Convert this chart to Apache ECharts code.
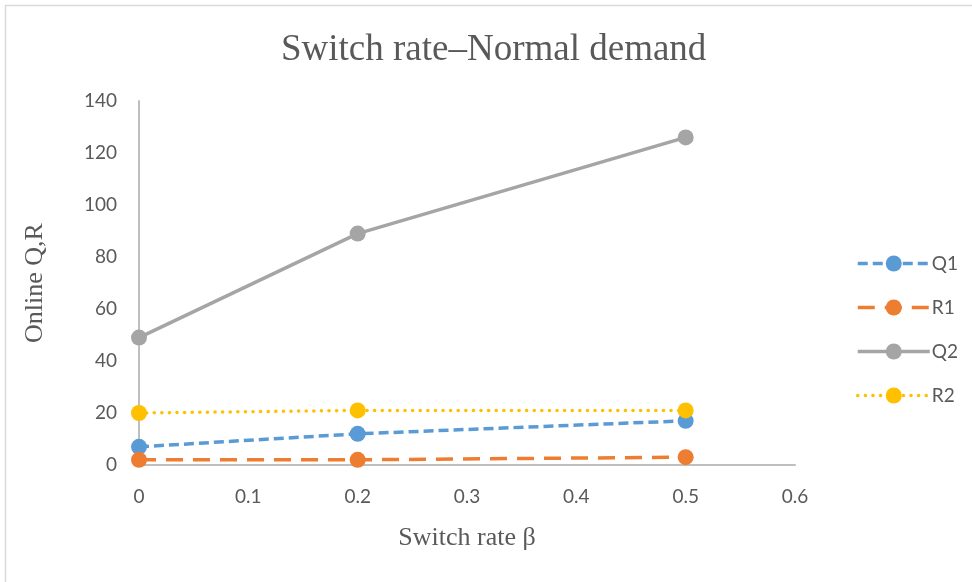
<!DOCTYPE html>
<html>
<head>
<meta charset="utf-8">
<title>Switch rate–Normal demand</title>
<script src="https://cdn.jsdelivr.net/npm/echarts@6/dist/echarts.min.js"></script>
<style>
  html, body { margin: 0; padding: 0; background: #ffffff; }
  #chart { width: 972px; height: 582px; }
</style>
</head>
<body>
<div id="chart"></div>
<script>
// Switch rate β values on the x axis
const switchRates = [0, 0.2, 0.5];

// Online order quantities and reorder points
const q1 = [7, 12, 17];
const r1 = [2, 2, 3];
const q2 = [49, 89, 126];
const r2 = [20, 21, 21];

const seriesNames = ['Q1', 'R1', 'Q2', 'R2'];

const xTicks = { min: 0, max: 0.6, interval: 0.1 };
const yTicks = { min: 0, max: 140, interval: 20 };

const pairs = (vals) => switchRates.map((x, i) => [x, vals[i]]);

const labelFont = 'Lato, "Noto Sans", sans-serif';
const serifFont = '"Liberation Serif", "Times New Roman", serif';
const textColor = '#595959';

const styles = [
  { color: '#5B9BD5', type: [10, 5], cap: 'butt' },
  { color: '#ED7D31', type: [17, 10], cap: 'butt' },
  { color: '#A5A5A5', type: 'solid', cap: 'butt' },
  { color: '#FFC000', type: [0.1, 7.5], cap: 'round' }
];

const values = [q1, r1, q2, r2];

const chart = echarts.init(document.getElementById('chart'), null, { renderer: 'canvas' });

chart.setOption({
  animation: false,
  backgroundColor: '#ffffff',
  graphic: [{
    type: 'rect',
    shape: { x: 5.5, y: 5.5, width: 1000, height: 700 },
    style: { fill: 'none', stroke: '#D9D9D9', lineWidth: 1.5 },
    silent: true
  }],
  title: {
    text: 'Switch rate–Normal demand',
    left: 276,
    top: 27,
    textStyle: { fontFamily: serifFont, fontSize: 37, fontWeight: 'normal', color: textColor }
  },
  legend: {
    orient: 'vertical',
    left: 851,
    top: 249,
    itemWidth: 72,
    itemHeight: 20,
    itemGap: 25,
    data: seriesNames,
    lineStyle: { width: 3.5 },
    textStyle: { fontFamily: labelFont, fontSize: 19, color: textColor, padding: [0, 0, 0, -3] }
  },
  grid: { left: 139, right: 177, top: 101, bottom: 117, containLabel: false },
  xAxis: {
    type: 'value',
    min: xTicks.min,
    max: xTicks.max,
    interval: xTicks.interval,
    name: 'Switch rate β',
    nameLocation: 'middle',
    nameGap: 60,
    nameTextStyle: { fontFamily: serifFont, fontSize: 26, color: textColor },
    axisLine: { show: true, lineStyle: { color: '#BFBFBF', width: 2 } },
    axisTick: { show: false },
    splitLine: { show: false },
    axisLabel: { fontFamily: labelFont, fontSize: 19, color: textColor, margin: 22 }
  },
  yAxis: {
    type: 'value',
    min: yTicks.min,
    max: yTicks.max,
    interval: yTicks.interval,
    name: 'Online Q,R',
    nameLocation: 'middle',
    nameGap: 91,
    nameTextStyle: { fontFamily: serifFont, fontSize: 26, color: textColor },
    axisLine: { show: true, onZero: false, lineStyle: { color: '#BFBFBF', width: 2 } },
    axisTick: { show: false },
    splitLine: { show: false },
    axisLabel: { fontFamily: labelFont, fontSize: 19, color: textColor, margin: 22 }
  },
  series: seriesNames.map((name, i) => ({
    name: name,
    type: 'line',
    data: pairs(values[i]),
    symbol: 'circle',
    symbolSize: 16,
    showAllSymbol: true,
    itemStyle: { color: styles[i].color },
    lineStyle: { color: styles[i].color, width: 3.5, type: styles[i].type, cap: styles[i].cap },
    emphasis: { disabled: true },
    z: 2 + i
  }))
});
</script>
</body>
</html>
